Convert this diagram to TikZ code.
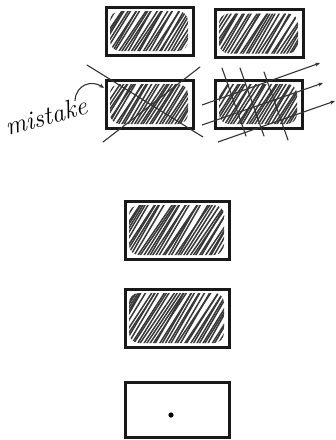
\documentclass[tikz,border=0pt]{standalone}
\usepackage{tikz}
\usetikzlibrary{arrows.meta,positioning,calc}

\begin{document}
\begin{tikzpicture}[
  x=1pt,y=-1pt,
  frame/.style={rectangle,draw=black!90,line width=3pt,inner sep=0pt},
  hatch/.style={path picture={
    \begin{scope}
    \clip[rounded corners=10pt] ([shift={(4,-4)}]path picture bounding box.south west) rectangle ([shift={(-5,4)}]path picture bounding box.north east);
    \foreach \k in {-26,...,36} {
      \pgfmathsetmacro{\jit}{rnd*8}
      \pgfmathsetmacro{\shf}{rnd*1.5}
      \draw[line width=1.5pt,black!78,line cap=round] ([shift={(\k*3.1+\shf,0)}]path picture bounding box.south west) -- ++(36+\jit,-64);
    }
    \end{scope}}},
  strike/.style={line width=1.1pt,black!80,line cap=round},
  line/.style={line width=1.1pt,black!80,-{Stealth[length=5pt,width=4pt]}}]
\pgfmathsetseed{7}
\useasboundingbox (0,0) rectangle (336,440);
% upper pairs
\node[frame,hatch,minimum width=87pt,minimum height=48pt] (tl) at (149.5,31) {};
\node[frame,hatch,minimum width=88pt,minimum height=48pt] (tr) at (259,33.5) {};
\node[frame,hatch,minimum width=87pt,minimum height=48pt] (ml) at (149.5,104) {};
\node[frame,hatch,minimum width=87pt,minimum height=48pt] (mr) at (258.5,104) {};
% crossed out
\draw[strike] (87,65) -- (203,137);
\draw[strike] (200,67) -- (103,142);
\foreach \a/\b in {222/68,240/68,264/72} {
  \draw[strike] (\a,\b) -- ++(24,68);
}
\draw[line] (202,105) -- (320,63);
\draw[line] (202,125) -- (323,83);
\draw[line] (218,142) -- (335,101);
% label
\node[font=\fontsize{26}{26}\selectfont\itshape,rotate=15,inner sep=1pt] (mis) at (46,116) {mistake};
\coordinate (tip) at (104,88);
\draw[line] ($(mis.north east)+(-10,6)$) .. controls (76,84) and (92,80) .. (tip);
% lower column
\node[frame,hatch,minimum width=104pt,minimum height=58pt] (b1) at (177,230) {};
\node[frame,hatch,minimum width=104pt,minimum height=58pt] (b2) at (177,318) {};
\node[frame,minimum width=104pt,minimum height=55pt] (b3) at (177,410) {};
\fill (171,415) circle (2.6pt);
\end{tikzpicture}
\end{document}
